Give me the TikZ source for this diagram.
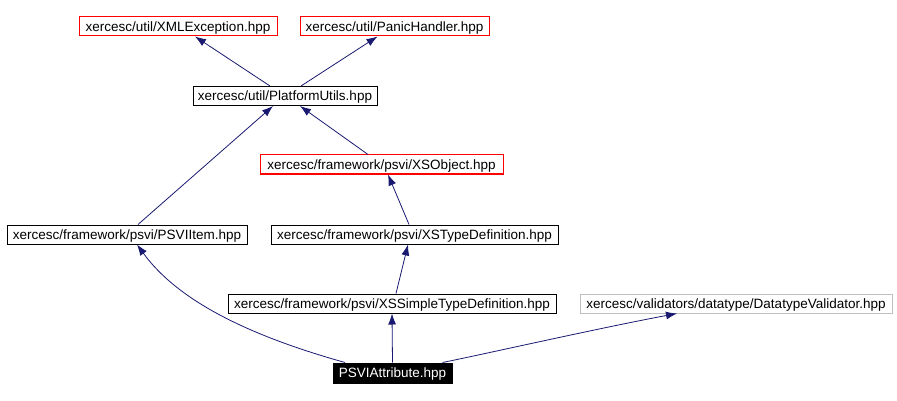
\documentclass[tikz,border=0pt]{standalone}
\usepackage{fontspec}
\setmainfont{Liberation Sans}
\usetikzlibrary{arrows.meta}
\definecolor{edgeblue}{HTML}{191970}
\definecolor{grayframe}{HTML}{BFBFBF}
\tikzset{
  box/.style={draw=black, line width=1pt, inner sep=0pt, minimum height=19pt,
    text height=11pt, text depth=1.5pt,
    font=\fontsize{13.5}{15}\selectfont, anchor=center, fill=white},
  redbox/.style={box, draw=red},
  graybox/.style={box, draw=grayframe},
  mainbox/.style={box, fill=black, text=white},
  edge/.style={draw=edgeblue, line width=0.8pt,
    -{Latex[length=11pt,width=8pt]}},
}
\begin{document}
\begin{tikzpicture}[x=1pt,y=-1pt]
\useasboundingbox (0,0) rectangle (897,401);
\node[redbox, minimum width=198pt] (xml) at (178,26.5) {xercesc/util/XMLException.hpp};
\node[redbox, minimum width=189pt] (panic) at (394.5,26.5) {xercesc/util/PanicHandler.hpp};
\node[box, minimum width=184pt] (pu) at (285,96) {xercesc/util/PlatformUtils.hpp};
\node[redbox, minimum width=243pt] (xso) at (381.5,164.5) {xercesc/framework/psvi/XSObject.hpp};
\node[box, minimum width=240pt] (item) at (127,234.5) {xercesc/framework/psvi/PSVIItem.hpp};
\node[box, minimum width=287pt] (xst) at (414.5,234.5) {xercesc/framework/psvi/XSTypeDefinition.hpp};
\node[box, minimum width=328pt] (xss) at (392,303.5) {xercesc/framework/psvi/XSSimpleTypeDefinition.hpp};
\node[graybox, minimum width=312pt] (dtv) at (736,303.5) {xercesc/validators/datatype/DatatypeValidator.hpp};
\node[mainbox, minimum width=119pt, minimum height=20pt] (attr) at (392.5,373) {PSVIAttribute.hpp};

\draw[edge] ([xshift=-15pt]pu.north) -- ([xshift=17pt]xml.south);
\draw[edge] ([xshift=16pt]pu.north) -- ([xshift=-17pt]panic.south);
\draw[edge] ([xshift=-13.5pt]xso.north) -- ([xshift=15pt]pu.south);
\draw[edge] ([xshift=11pt]item.north) -- ([xshift=-12pt]pu.south);
\draw[edge] ([xshift=-5.5pt]xst.north) -- ([xshift=6.5pt]xso.south);
\draw[edge] ([xshift=4pt]xss.north) -- ([xshift=-6.5pt]xst.south);
\draw[edge] (attr.north) -- (xss.south);
\draw[edge] ([xshift=-47.5pt]attr.north) .. controls +(-100,-28) and +(40,55) .. ([xshift=10pt]item.south);
\draw[edge] ([xshift=50pt]attr.north) .. controls +(40,-8) and +(-80,15) .. ([xshift=-59pt]dtv.south);
\end{tikzpicture}
\end{document}
